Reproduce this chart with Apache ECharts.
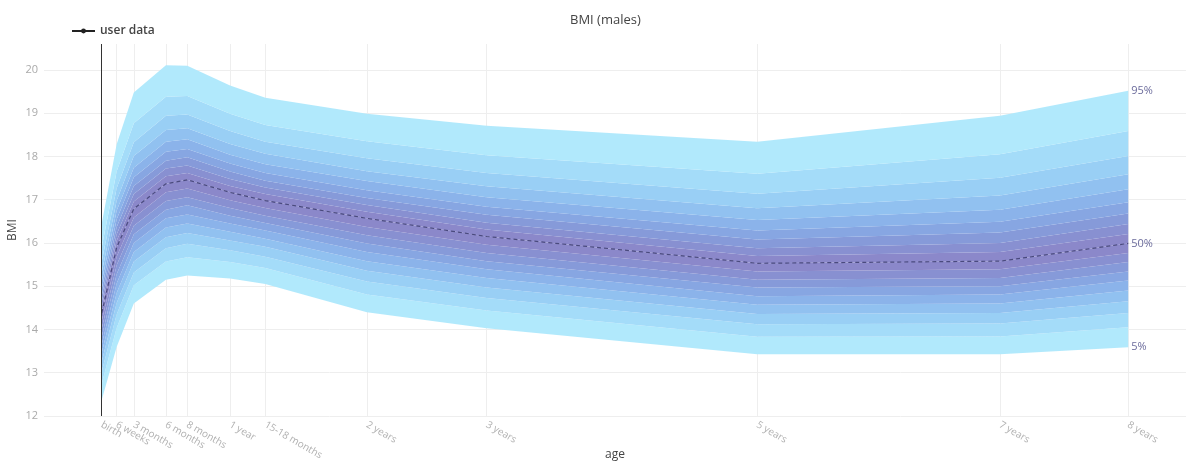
<!DOCTYPE html>
<html>
<head>
<meta charset="utf-8">
<title>BMI (males)</title>
<script src="https://cdn.jsdelivr.net/npm/echarts@6/dist/echarts.min.js"></script>
<style>
  html, body { margin: 0; padding: 0; background: #fff; }
  #chart { width: 1188px; height: 461px; }
</style>
</head>
<body>
<div id="chart"></div>
<script>
// Age of each reference point, in months from birth
const ageMonths = [0, 1.4, 3, 6, 8, 12, 15.3, 24.8, 36, 61.3, 84, 96];
const ageLabels = ['birth', '6 weeks', '3 months', '6 months', '8 months', '1 year',
  '15-18 months', '2 years', '3 years', '5 years', '7 years', '8 years'];

// BMI percentile curves (kg/m²), one value per age above
const p5  = [12.37, 13.60, 14.60, 15.15, 15.25, 15.18, 15.05, 14.40, 14.03, 13.43, 13.43, 13.59];
const p10 = [12.75, 14.04, 15.02, 15.57, 15.67, 15.56, 15.42, 14.81, 14.44, 13.83, 13.84, 14.05];
const p15 = [13.03, 14.35, 15.32, 15.88, 15.98, 15.83, 15.68, 15.11, 14.73, 14.12, 14.14, 14.38];
const p20 = [13.26, 14.62, 15.57, 16.13, 16.23, 16.06, 15.91, 15.36, 14.97, 14.36, 14.38, 14.65];
const p25 = [13.47, 14.85, 15.79, 16.36, 16.45, 16.26, 16.10, 15.58, 15.19, 14.57, 14.60, 14.90];
const p30 = [13.66, 15.07, 16.00, 16.57, 16.66, 16.45, 16.29, 15.79, 15.39, 14.77, 14.81, 15.13];
const p35 = [13.84, 15.28, 16.20, 16.77, 16.87, 16.63, 16.46, 15.99, 15.58, 14.97, 15.00, 15.34];
const p40 = [14.02, 15.49, 16.40, 16.97, 17.06, 16.81, 16.63, 16.18, 15.77, 15.15, 15.19, 15.56];
const p45 = [14.20, 15.69, 16.59, 17.17, 17.26, 16.99, 16.81, 16.37, 15.96, 15.34, 15.39, 15.77];
const p50 = [14.38, 15.90, 16.79, 17.37, 17.46, 17.17, 16.98, 16.57, 16.15, 15.53, 15.58, 15.99];
const p55 = [14.51, 16.05, 16.96, 17.54, 17.62, 17.32, 17.13, 16.72, 16.31, 15.70, 15.79, 16.21];
const p60 = [14.64, 16.20, 17.13, 17.72, 17.79, 17.48, 17.28, 16.88, 16.47, 15.88, 16.00, 16.44];
const p65 = [14.78, 16.37, 17.32, 17.90, 17.98, 17.65, 17.44, 17.04, 16.65, 16.08, 16.24, 16.68];
const p70 = [14.94, 16.55, 17.52, 18.11, 18.17, 17.84, 17.62, 17.22, 16.84, 16.29, 16.49, 16.94];
const p75 = [15.11, 16.75, 17.74, 18.34, 18.40, 18.04, 17.82, 17.43, 17.06, 16.53, 16.77, 17.24];
const p80 = [15.32, 16.98, 18.01, 18.61, 18.65, 18.29, 18.06, 17.66, 17.31, 16.80, 17.10, 17.59];
const p85 = [15.57, 17.27, 18.33, 18.94, 18.97, 18.59, 18.34, 17.96, 17.62, 17.14, 17.51, 18.01];
const p90 = [15.90, 17.66, 18.77, 19.38, 19.40, 18.99, 18.73, 18.35, 18.03, 17.60, 18.05, 18.59];
const p95 = [16.45, 18.29, 19.48, 20.11, 20.10, 19.64, 19.36, 18.99, 18.71, 18.34, 18.94, 19.52];

const yTicks = [12, 13, 14, 15, 16, 17, 18, 19, 20];

// Curves in order from the lowest to the highest percentile
const curves = [p5, p10, p15, p20, p25, p30, p35, p40, p45, p50,
  p55, p60, p65, p70, p75, p80, p85, p90, p95];

// Fill for each band, light cyan at the tails to violet at the median
const bandColors = [
  '#aee8fc', '#a1dbf9', '#96cdf5', '#8dbff0', '#87b1e9', '#83a3e1', '#8297d8', '#848cd0', '#8784c8',
  '#8784c8', '#848cd0', '#8297d8', '#83a3e1', '#87b1e9', '#8dbff0', '#96cdf5', '#a1dbf9', '#aee8fc'
];

const pairs = arr => arr.map((v, i) => [ageMonths[i], v]);

// One polygon per band, between two neighbouring percentile curves
const bandItems = bandColors.map((c, k) => [ageMonths[0], curves[k][0], k]);

// "6 weeks" sits on its own axis so that it is not dropped as overlapping "birth"
const mainTickAges = ageMonths.filter((a, i) => i !== 1);
const sideTickAges = [ageMonths[1]];

const labelFor = v => {
  let best = 0;
  ageMonths.forEach((a, i) => { if (Math.abs(a - v) < Math.abs(ageMonths[best] - v)) best = i; });
  return ageLabels[best];
};

const series = [];

series.push({
  type: 'custom', silent: true, z: 1,
  data: bandItems,
  renderItem: (params, api) => {
    const k = api.value(2);
    const lower = curves[k];
    const upper = curves[k + 1];
    const top = ageMonths.map((a, i) => api.coord([a, upper[i]]));
    const bottom = ageMonths.map((a, i) => api.coord([a, lower[i]])).reverse();
    return {
      type: 'polygon',
      shape: { points: top.concat(bottom) },
      style: { fill: bandColors[k], opacity: 0.97 }
    };
  }
});

const endLabelStyle = txt => ({
  show: true, formatter: txt, color: '#6c6c9c', fontSize: 11,
  fontFamily: 'Open Sans', distance: 3
});

// Outer curves carry their percentile names at the right end
series.push({
  type: 'line', silent: true, symbol: 'none', data: pairs(p95),
  lineStyle: { width: 0, opacity: 0 }, endLabel: endLabelStyle('95%'), z: 3
});
series.push({
  type: 'line', silent: true, symbol: 'none', data: pairs(p5),
  lineStyle: { width: 0, opacity: 0 }, endLabel: endLabelStyle('5%'), z: 3
});
// Median, dashed, plus the zero line at birth
series.push({
  type: 'line', silent: true, symbol: 'none', data: pairs(p50),
  lineStyle: { color: '#4a4a7e', width: 1.2, type: [4, 3] },
  endLabel: endLabelStyle('50%'),
  markLine: {
    silent: true, symbol: ['none', 'none'], animation: false,
    label: { show: false },
    lineStyle: { color: '#333', width: 1, type: 'solid' },
    data: [{ xAxis: 0 }]
  },
  z: 4
});
// Measured points of the child (none entered yet)
series.push({
  name: 'user data', type: 'line', data: [],
  symbol: 'circle', symbolSize: 5,
  itemStyle: { color: '#222' }, lineStyle: { color: '#222', width: 2 }
});

const xLabelStyle = values => ({
  customValues: values, rotate: -30, color: '#b0b0b0', fontSize: 10, margin: 8,
  fontFamily: 'Open Sans', showMinLabel: true, showMaxLabel: true, hideOverlap: false,
  formatter: labelFor
});

const option = {
  animation: false,
  textStyle: { fontFamily: 'Open Sans' },
  title: {
    text: 'BMI (males)', left: 565, top: 9,
    textStyle: { fontSize: 13, fontWeight: 'normal', color: '#444', fontFamily: 'Open Sans' }
  },
  legend: {
    data: ['user data'], left: 66, top: 20, itemWidth: 23, itemHeight: 6, itemGap: 5,
    textStyle: { fontSize: 12, color: '#444', fontWeight: 600, fontFamily: 'Open Sans' }
  },
  grid: { left: 44, right: 2, top: 44, bottom: 45, containLabel: false, outerBoundsMode: 'none' },
  xAxis: [{
    type: 'value', min: -5.4, max: 101.4, position: 'bottom',
    name: 'age', nameLocation: 'middle', nameGap: 33, nameMoveOverlap: false,
    nameTextStyle: { color: '#444', fontSize: 12, fontFamily: 'Open Sans' },
    axisLine: { show: false },
    axisTick: { show: false, customValues: ageMonths },
    axisLabel: xLabelStyle(mainTickAges),
    splitLine: { show: true, lineStyle: { color: '#eeeeee', width: 1 } }
  }, {
    type: 'value', min: -5.4, max: 101.4, position: 'bottom', offset: 0,
    axisLine: { show: false },
    axisTick: { show: false, customValues: sideTickAges },
    axisLabel: xLabelStyle(sideTickAges),
    splitLine: { show: false }
  }],
  yAxis: {
    type: 'value', min: 12, max: 20.6, interval: 1,
    name: 'BMI', nameLocation: 'middle', nameGap: 25, nameRotate: 90, nameMoveOverlap: false,
    nameTextStyle: { color: '#444', fontSize: 12, fontFamily: 'Open Sans' },
    axisLine: { show: false }, axisTick: { show: false },
    axisLabel: {
      color: '#aaaaaa', fontSize: 11, margin: 6, showMaxLabel: false,
      fontFamily: 'Open Sans',
      formatter: v => (yTicks.indexOf(v) >= 0 ? String(v) : '')
    },
    splitLine: { show: true, showMaxLine: false, lineStyle: { color: '#eeeeee', width: 1 } }
  },
  series: series
};

const chart = echarts.init(document.getElementById('chart'), null, { renderer: 'canvas' });
chart.setOption(option);
</script>
</body>
</html>
